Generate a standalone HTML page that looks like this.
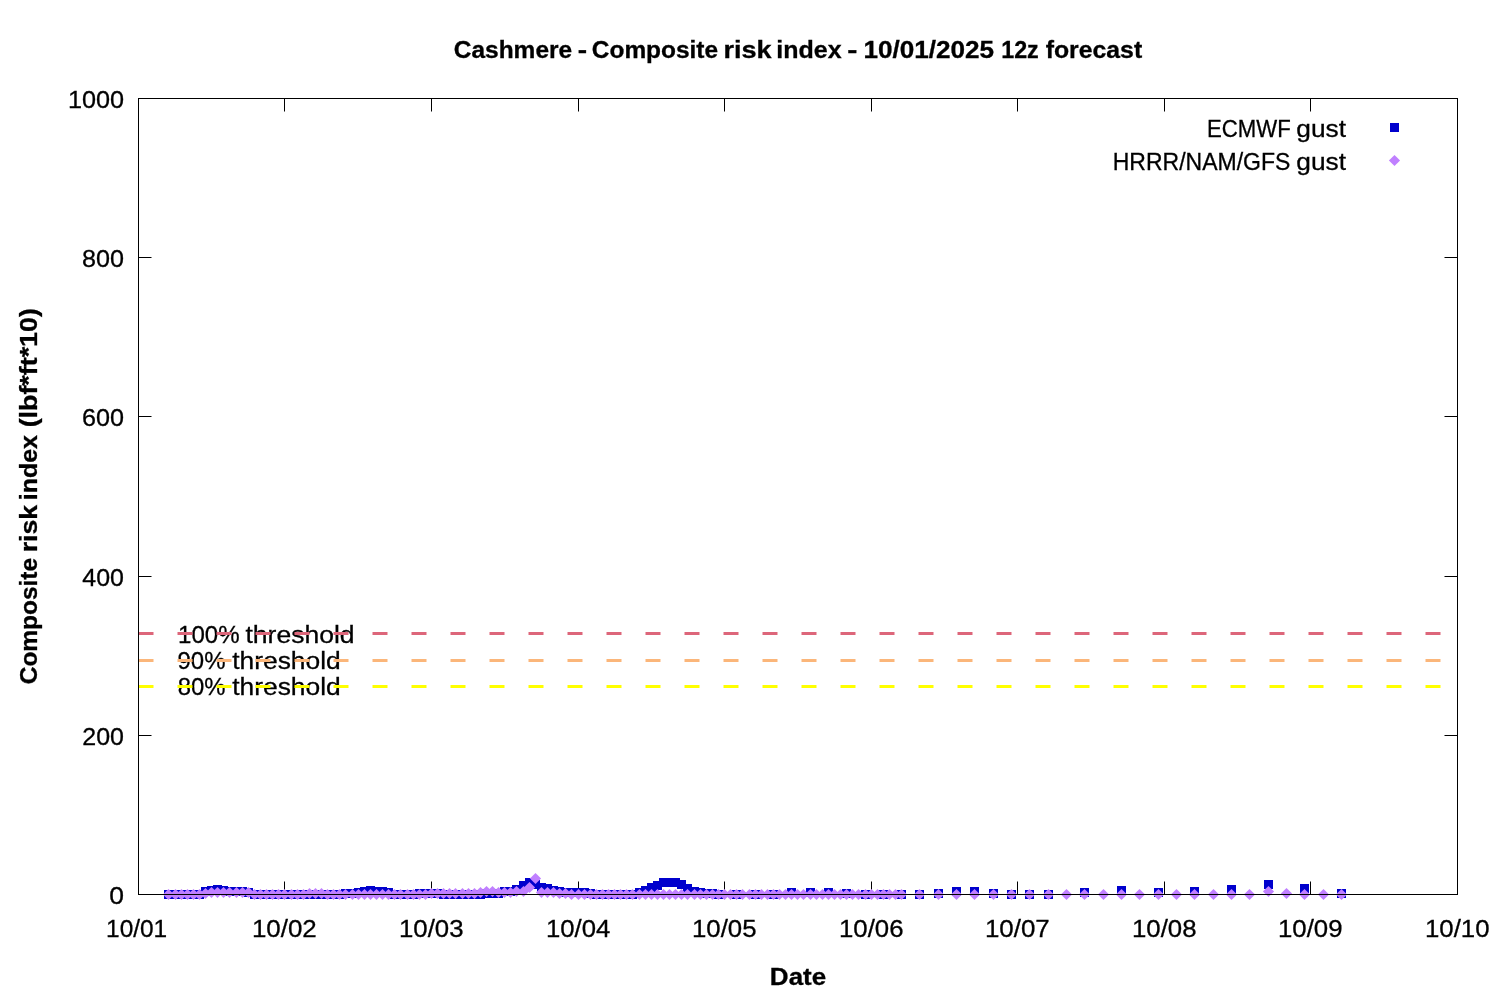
<!DOCTYPE html>
<html lang="en"><head><meta charset="utf-8"><title>Cashmere - Composite risk index</title>
<style>html,body{margin:0;padding:0;background:#fff}svg{display:block}text{font-family:"Liberation Sans",sans-serif;fill:#000;stroke:#000;stroke-width:.3px}</style></head><body>
<svg width="1500" height="1000" viewBox="0 0 1500 1000">
<rect width="1500" height="1000" fill="#fff"/>
<path d="M284.5 894.5V881.5M284.5 98.5V111.5M431.5 894.5V881.5M431.5 98.5V111.5M578.5 894.5V881.5M578.5 98.5V111.5M724.5 894.5V881.5M724.5 98.5V111.5M871.5 894.5V881.5M871.5 98.5V111.5M1017.5 894.5V881.5M1017.5 98.5V111.5M1164.5 894.5V881.5M1164.5 98.5V111.5M1310.5 894.5V881.5M1310.5 98.5V111.5M138.5 735.5H151.5M1457.5 735.5H1444.5M138.5 576.5H151.5M1457.5 576.5H1444.5M138.5 416.5H151.5M1457.5 416.5H1444.5M138.5 257.5H151.5M1457.5 257.5H1444.5" stroke="#000" stroke-width="1" fill="none"/>
<text y="58.4" font-size="23.5" font-weight="bold"><tspan x="453.72" textLength="118.46" lengthAdjust="spacingAndGlyphs">Cashmere</tspan> <tspan x="577.68" textLength="9.33" lengthAdjust="spacingAndGlyphs">-</tspan> <tspan x="591.82" textLength="126.28" lengthAdjust="spacingAndGlyphs">Composite</tspan> <tspan x="723.41" textLength="48.07" lengthAdjust="spacingAndGlyphs">risk</tspan> <tspan x="776.35" textLength="65.35" lengthAdjust="spacingAndGlyphs">index</tspan> <tspan x="847.28" textLength="10.13" lengthAdjust="spacingAndGlyphs">-</tspan> <tspan x="863.43" textLength="130.72" lengthAdjust="spacingAndGlyphs">10/01/2025</tspan> <tspan x="1001.2" textLength="37.55" lengthAdjust="spacingAndGlyphs">12z</tspan> <tspan x="1045.7" textLength="96.46" lengthAdjust="spacingAndGlyphs">forecast</tspan></text>
<text y="643" font-size="24.8"><tspan x="178.08" textLength="61.53" lengthAdjust="spacingAndGlyphs">100%</tspan> <tspan x="245.47" textLength="109.13" lengthAdjust="spacingAndGlyphs">threshold</tspan></text>
<text y="669" font-size="24.8"><tspan x="177.5" textLength="47.95" lengthAdjust="spacingAndGlyphs">90%</tspan> <tspan x="232.17" textLength="108.62" lengthAdjust="spacingAndGlyphs">threshold</tspan></text>
<text y="695" font-size="24.8"><tspan x="177.75" textLength="47.71" lengthAdjust="spacingAndGlyphs">80%</tspan> <tspan x="232.17" textLength="108.62" lengthAdjust="spacingAndGlyphs">threshold</tspan></text>
<line x1="138.5" y1="633.5" x2="1457.5" y2="633.5" stroke="#dd667a" stroke-width="3" stroke-dasharray="15 24"/>
<line x1="138.5" y1="660.5" x2="1457.5" y2="660.5" stroke="#fbb67a" stroke-width="3" stroke-dasharray="15 24"/>
<line x1="138.5" y1="686.5" x2="1457.5" y2="686.5" stroke="#ffff00" stroke-width="3" stroke-dasharray="15 24"/>
<g fill="#0000cd" shape-rendering="crispEdges">
<rect x="164" y="890" width="9" height="9"/>
<rect x="171" y="890" width="9" height="9"/>
<rect x="177" y="890" width="9" height="9"/>
<rect x="183" y="890" width="9" height="9"/>
<rect x="189" y="890" width="9" height="9"/>
<rect x="195" y="890" width="9" height="9"/>
<rect x="201" y="887" width="9" height="9"/>
<rect x="207" y="886" width="9" height="9"/>
<rect x="213" y="885" width="9" height="9"/>
<rect x="219" y="886" width="9" height="9"/>
<rect x="225" y="887" width="9" height="9"/>
<rect x="232" y="887" width="9" height="9"/>
<rect x="238" y="887" width="9" height="9"/>
<rect x="244" y="888" width="9" height="9"/>
<rect x="250" y="890" width="9" height="9"/>
<rect x="256" y="890" width="9" height="9"/>
<rect x="262" y="890" width="9" height="9"/>
<rect x="268" y="890" width="9" height="9"/>
<rect x="274" y="890" width="9" height="9"/>
<rect x="280" y="890" width="9" height="9"/>
<rect x="287" y="890" width="9" height="9"/>
<rect x="293" y="890" width="9" height="9"/>
<rect x="299" y="890" width="9" height="9"/>
<rect x="305" y="890" width="9" height="9"/>
<rect x="311" y="890" width="9" height="9"/>
<rect x="317" y="890" width="9" height="9"/>
<rect x="323" y="890" width="9" height="9"/>
<rect x="329" y="890" width="9" height="9"/>
<rect x="335" y="890" width="9" height="9"/>
<rect x="341" y="889" width="9" height="9"/>
<rect x="348" y="889" width="9" height="9"/>
<rect x="354" y="888" width="9" height="9"/>
<rect x="360" y="887" width="9" height="9"/>
<rect x="366" y="886" width="9" height="9"/>
<rect x="372" y="887" width="9" height="9"/>
<rect x="378" y="887" width="9" height="9"/>
<rect x="384" y="888" width="9" height="9"/>
<rect x="390" y="890" width="9" height="9"/>
<rect x="396" y="890" width="9" height="9"/>
<rect x="403" y="890" width="9" height="9"/>
<rect x="409" y="890" width="9" height="9"/>
<rect x="415" y="889" width="9" height="9"/>
<rect x="421" y="889" width="9" height="9"/>
<rect x="427" y="889" width="9" height="9"/>
<rect x="433" y="889" width="9" height="9"/>
<rect x="439" y="890" width="9" height="9"/>
<rect x="445" y="890" width="9" height="9"/>
<rect x="451" y="890" width="9" height="9"/>
<rect x="458" y="890" width="9" height="9"/>
<rect x="464" y="890" width="9" height="9"/>
<rect x="470" y="890" width="9" height="9"/>
<rect x="476" y="890" width="9" height="9"/>
<rect x="482" y="889" width="9" height="9"/>
<rect x="488" y="889" width="9" height="9"/>
<rect x="494" y="889" width="9" height="9"/>
<rect x="500" y="887" width="9" height="9"/>
<rect x="506" y="887" width="9" height="9"/>
<rect x="512" y="885" width="9" height="9"/>
<rect x="519" y="881" width="9" height="9"/>
<rect x="525" y="878" width="9" height="9"/>
<rect x="531" y="880" width="9" height="9"/>
<rect x="537" y="883" width="9" height="9"/>
<rect x="543" y="884" width="9" height="9"/>
<rect x="549" y="886" width="9" height="9"/>
<rect x="555" y="887" width="9" height="9"/>
<rect x="561" y="888" width="9" height="9"/>
<rect x="567" y="888" width="9" height="9"/>
<rect x="574" y="888" width="9" height="9"/>
<rect x="580" y="888" width="9" height="9"/>
<rect x="586" y="889" width="9" height="9"/>
<rect x="592" y="890" width="9" height="9"/>
<rect x="598" y="890" width="9" height="9"/>
<rect x="604" y="890" width="9" height="9"/>
<rect x="610" y="890" width="9" height="9"/>
<rect x="616" y="890" width="9" height="9"/>
<rect x="622" y="890" width="9" height="9"/>
<rect x="628" y="890" width="9" height="9"/>
<rect x="635" y="888" width="9" height="9"/>
<rect x="641" y="886" width="9" height="9"/>
<rect x="647" y="883" width="9" height="9"/>
<rect x="653" y="881" width="9" height="9"/>
<rect x="659" y="878" width="9" height="9"/>
<rect x="665" y="878" width="9" height="9"/>
<rect x="671" y="878" width="9" height="9"/>
<rect x="677" y="880" width="9" height="9"/>
<rect x="683" y="884" width="9" height="9"/>
<rect x="690" y="887" width="9" height="9"/>
<rect x="696" y="888" width="9" height="9"/>
<rect x="702" y="889" width="9" height="9"/>
<rect x="708" y="889" width="9" height="9"/>
<rect x="714" y="890" width="9" height="9"/>
<rect x="732" y="890" width="9" height="9"/>
<rect x="751" y="890" width="9" height="9"/>
<rect x="769" y="890" width="9" height="9"/>
<rect x="787" y="888" width="9" height="9"/>
<rect x="806" y="888" width="9" height="9"/>
<rect x="824" y="888" width="9" height="9"/>
<rect x="842" y="889" width="9" height="9"/>
<rect x="861" y="890" width="9" height="9"/>
<rect x="879" y="890" width="9" height="9"/>
<rect x="897" y="890" width="9" height="9"/>
<rect x="915" y="890" width="9" height="9"/>
<rect x="934" y="889" width="9" height="9"/>
<rect x="952" y="887" width="9" height="9"/>
<rect x="970" y="887" width="9" height="9"/>
<rect x="989" y="889" width="9" height="9"/>
<rect x="1007" y="890" width="9" height="9"/>
<rect x="1025" y="890" width="9" height="9"/>
<rect x="1044" y="890" width="9" height="9"/>
<rect x="1080" y="888" width="9" height="9"/>
<rect x="1117" y="886" width="9" height="9"/>
<rect x="1154" y="888" width="9" height="9"/>
<rect x="1190" y="887" width="9" height="9"/>
<rect x="1227" y="885" width="9" height="9"/>
<rect x="1264" y="880" width="9" height="9"/>
<rect x="1300" y="884" width="9" height="9"/>
<rect x="1337" y="889" width="9" height="9"/>
</g>
<g fill="#c080ff">
<path d="M162.9 894.5L168.5 888.9L174.1 894.5L168.5 900.1Z"/>
<path d="M169.9 894.5L175.5 888.9L181.1 894.5L175.5 900.1Z"/>
<path d="M175.9 894.5L181.5 888.9L187.1 894.5L181.5 900.1Z"/>
<path d="M181.9 894.5L187.5 888.9L193.1 894.5L187.5 900.1Z"/>
<path d="M187.9 894.5L193.5 888.9L199.1 894.5L193.5 900.1Z"/>
<path d="M193.9 894.5L199.5 888.9L205.1 894.5L199.5 900.1Z"/>
<path d="M199.9 893.5L205.5 887.9L211.1 893.5L205.5 899.1Z"/>
<path d="M205.9 892.5L211.5 886.9L217.1 892.5L211.5 898.1Z"/>
<path d="M211.9 892.5L217.5 886.9L223.1 892.5L217.5 898.1Z"/>
<path d="M217.9 892.5L223.5 886.9L229.1 892.5L223.5 898.1Z"/>
<path d="M223.9 892.5L229.5 886.9L235.1 892.5L229.5 898.1Z"/>
<path d="M230.9 892.5L236.5 886.9L242.1 892.5L236.5 898.1Z"/>
<path d="M236.9 892.5L242.5 886.9L248.1 892.5L242.5 898.1Z"/>
<path d="M242.9 892.5L248.5 886.9L254.1 892.5L248.5 898.1Z"/>
<path d="M248.9 894.5L254.5 888.9L260.1 894.5L254.5 900.1Z"/>
<path d="M254.9 894.5L260.5 888.9L266.1 894.5L260.5 900.1Z"/>
<path d="M260.9 894.5L266.5 888.9L272.1 894.5L266.5 900.1Z"/>
<path d="M266.9 894.5L272.5 888.9L278.1 894.5L272.5 900.1Z"/>
<path d="M272.9 894.5L278.5 888.9L284.1 894.5L278.5 900.1Z"/>
<path d="M278.9 894.5L284.5 888.9L290.1 894.5L284.5 900.1Z"/>
<path d="M285.9 894.5L291.5 888.9L297.1 894.5L291.5 900.1Z"/>
<path d="M291.9 894.5L297.5 888.9L303.1 894.5L297.5 900.1Z"/>
<path d="M297.9 894.5L303.5 888.9L309.1 894.5L303.5 900.1Z"/>
<path d="M303.9 893.5L309.5 887.9L315.1 893.5L309.5 899.1Z"/>
<path d="M309.9 893.5L315.5 887.9L321.1 893.5L315.5 899.1Z"/>
<path d="M315.9 893.5L321.5 887.9L327.1 893.5L321.5 899.1Z"/>
<path d="M321.9 894.5L327.5 888.9L333.1 894.5L327.5 900.1Z"/>
<path d="M327.9 894.5L333.5 888.9L339.1 894.5L333.5 900.1Z"/>
<path d="M333.9 894.5L339.5 888.9L345.1 894.5L339.5 900.1Z"/>
<path d="M339.9 894.5L345.5 888.9L351.1 894.5L345.5 900.1Z"/>
<path d="M346.9 894.5L352.5 888.9L358.1 894.5L352.5 900.1Z"/>
<path d="M352.9 894.5L358.5 888.9L364.1 894.5L358.5 900.1Z"/>
<path d="M358.9 894.5L364.5 888.9L370.1 894.5L364.5 900.1Z"/>
<path d="M364.9 894.5L370.5 888.9L376.1 894.5L370.5 900.1Z"/>
<path d="M370.9 894.5L376.5 888.9L382.1 894.5L376.5 900.1Z"/>
<path d="M376.9 894.5L382.5 888.9L388.1 894.5L382.5 900.1Z"/>
<path d="M382.9 894.5L388.5 888.9L394.1 894.5L388.5 900.1Z"/>
<path d="M388.9 894.5L394.5 888.9L400.1 894.5L394.5 900.1Z"/>
<path d="M394.9 894.5L400.5 888.9L406.1 894.5L400.5 900.1Z"/>
<path d="M401.9 894.5L407.5 888.9L413.1 894.5L407.5 900.1Z"/>
<path d="M407.9 894.5L413.5 888.9L419.1 894.5L413.5 900.1Z"/>
<path d="M413.9 894.5L419.5 888.9L425.1 894.5L419.5 900.1Z"/>
<path d="M419.9 894.5L425.5 888.9L431.1 894.5L425.5 900.1Z"/>
<path d="M425.9 893.5L431.5 887.9L437.1 893.5L431.5 899.1Z"/>
<path d="M431.9 893.5L437.5 887.9L443.1 893.5L437.5 899.1Z"/>
<path d="M437.9 893.5L443.5 887.9L449.1 893.5L443.5 899.1Z"/>
<path d="M443.9 893.5L449.5 887.9L455.1 893.5L449.5 899.1Z"/>
<path d="M449.9 893.5L455.5 887.9L461.1 893.5L455.5 899.1Z"/>
<path d="M456.9 893.5L462.5 887.9L468.1 893.5L462.5 899.1Z"/>
<path d="M462.9 893.5L468.5 887.9L474.1 893.5L468.5 899.1Z"/>
<path d="M468.9 893.5L474.5 887.9L480.1 893.5L474.5 899.1Z"/>
<path d="M474.9 892.5L480.5 886.9L486.1 892.5L480.5 898.1Z"/>
<path d="M480.9 891.5L486.5 885.9L492.1 891.5L486.5 897.1Z"/>
<path d="M486.9 891.5L492.5 885.9L498.1 891.5L492.5 897.1Z"/>
<path d="M492.9 892.5L498.5 886.9L504.1 892.5L498.5 898.1Z"/>
<path d="M498.9 892.5L504.5 886.9L510.1 892.5L504.5 898.1Z"/>
<path d="M504.9 892.5L510.5 886.9L516.1 892.5L510.5 898.1Z"/>
<path d="M510.9 891.5L516.5 885.9L522.1 891.5L516.5 897.1Z"/>
<path d="M517.9 891.5L523.5 885.9L529.1 891.5L523.5 897.1Z"/>
<path d="M523.9 887.5L529.5 881.9L535.1 887.5L529.5 893.1Z"/>
<path d="M529.9 878.5L535.5 872.9L541.1 878.5L535.5 884.1Z"/>
<path d="M535.9 892.5L541.5 886.9L547.1 892.5L541.5 898.1Z"/>
<path d="M541.9 892.5L547.5 886.9L553.1 892.5L547.5 898.1Z"/>
<path d="M547.9 892.5L553.5 886.9L559.1 892.5L553.5 898.1Z"/>
<path d="M553.9 893.5L559.5 887.9L565.1 893.5L559.5 899.1Z"/>
<path d="M559.9 893.5L565.5 887.9L571.1 893.5L565.5 899.1Z"/>
<path d="M565.9 894.5L571.5 888.9L577.1 894.5L571.5 900.1Z"/>
<path d="M572.9 894.5L578.5 888.9L584.1 894.5L578.5 900.1Z"/>
<path d="M578.9 894.5L584.5 888.9L590.1 894.5L584.5 900.1Z"/>
<path d="M584.9 894.5L590.5 888.9L596.1 894.5L590.5 900.1Z"/>
<path d="M590.9 894.5L596.5 888.9L602.1 894.5L596.5 900.1Z"/>
<path d="M596.9 894.5L602.5 888.9L608.1 894.5L602.5 900.1Z"/>
<path d="M602.9 894.5L608.5 888.9L614.1 894.5L608.5 900.1Z"/>
<path d="M608.9 894.5L614.5 888.9L620.1 894.5L614.5 900.1Z"/>
<path d="M614.9 894.5L620.5 888.9L626.1 894.5L620.5 900.1Z"/>
<path d="M620.9 894.5L626.5 888.9L632.1 894.5L626.5 900.1Z"/>
<path d="M626.9 894.5L632.5 888.9L638.1 894.5L632.5 900.1Z"/>
<path d="M633.9 894.5L639.5 888.9L645.1 894.5L639.5 900.1Z"/>
<path d="M639.9 894.5L645.5 888.9L651.1 894.5L645.5 900.1Z"/>
<path d="M645.9 894.5L651.5 888.9L657.1 894.5L651.5 900.1Z"/>
<path d="M651.9 894.5L657.5 888.9L663.1 894.5L657.5 900.1Z"/>
<path d="M657.9 894.5L663.5 888.9L669.1 894.5L663.5 900.1Z"/>
<path d="M663.9 894.5L669.5 888.9L675.1 894.5L669.5 900.1Z"/>
<path d="M669.9 894.5L675.5 888.9L681.1 894.5L675.5 900.1Z"/>
<path d="M675.9 894.5L681.5 888.9L687.1 894.5L681.5 900.1Z"/>
<path d="M681.9 894.5L687.5 888.9L693.1 894.5L687.5 900.1Z"/>
<path d="M688.9 894.5L694.5 888.9L700.1 894.5L694.5 900.1Z"/>
<path d="M694.9 894.5L700.5 888.9L706.1 894.5L700.5 900.1Z"/>
<path d="M700.9 894.5L706.5 888.9L712.1 894.5L706.5 900.1Z"/>
<path d="M706.9 894.5L712.5 888.9L718.1 894.5L712.5 900.1Z"/>
<path d="M712.9 894.5L718.5 888.9L724.1 894.5L718.5 900.1Z"/>
<path d="M718.9 894.5L724.5 888.9L730.1 894.5L724.5 900.1Z"/>
<path d="M724.9 894.5L730.5 888.9L736.1 894.5L730.5 900.1Z"/>
<path d="M730.9 894.5L736.5 888.9L742.1 894.5L736.5 900.1Z"/>
<path d="M736.9 894.5L742.5 888.9L748.1 894.5L742.5 900.1Z"/>
<path d="M743.9 894.5L749.5 888.9L755.1 894.5L749.5 900.1Z"/>
<path d="M749.9 894.5L755.5 888.9L761.1 894.5L755.5 900.1Z"/>
<path d="M755.9 894.5L761.5 888.9L767.1 894.5L761.5 900.1Z"/>
<path d="M761.9 894.5L767.5 888.9L773.1 894.5L767.5 900.1Z"/>
<path d="M767.9 894.5L773.5 888.9L779.1 894.5L773.5 900.1Z"/>
<path d="M773.9 894.5L779.5 888.9L785.1 894.5L779.5 900.1Z"/>
<path d="M779.9 894.5L785.5 888.9L791.1 894.5L785.5 900.1Z"/>
<path d="M785.9 894.5L791.5 888.9L797.1 894.5L791.5 900.1Z"/>
<path d="M791.9 894.5L797.5 888.9L803.1 894.5L797.5 900.1Z"/>
<path d="M797.9 894.5L803.5 888.9L809.1 894.5L803.5 900.1Z"/>
<path d="M804.9 894.5L810.5 888.9L816.1 894.5L810.5 900.1Z"/>
<path d="M810.9 894.5L816.5 888.9L822.1 894.5L816.5 900.1Z"/>
<path d="M816.9 894.5L822.5 888.9L828.1 894.5L822.5 900.1Z"/>
<path d="M822.9 894.5L828.5 888.9L834.1 894.5L828.5 900.1Z"/>
<path d="M828.9 894.5L834.5 888.9L840.1 894.5L834.5 900.1Z"/>
<path d="M834.9 894.5L840.5 888.9L846.1 894.5L840.5 900.1Z"/>
<path d="M840.9 894.5L846.5 888.9L852.1 894.5L846.5 900.1Z"/>
<path d="M846.9 894.5L852.5 888.9L858.1 894.5L852.5 900.1Z"/>
<path d="M852.9 894.5L858.5 888.9L864.1 894.5L858.5 900.1Z"/>
<path d="M859.9 894.5L865.5 888.9L871.1 894.5L865.5 900.1Z"/>
<path d="M865.9 894.5L871.5 888.9L877.1 894.5L871.5 900.1Z"/>
<path d="M871.9 894.5L877.5 888.9L883.1 894.5L877.5 900.1Z"/>
<path d="M877.9 894.5L883.5 888.9L889.1 894.5L883.5 900.1Z"/>
<path d="M883.9 894.5L889.5 888.9L895.1 894.5L889.5 900.1Z"/>
<path d="M889.9 894.5L895.5 888.9L901.1 894.5L895.5 900.1Z"/>
<path d="M895.9 894.5L901.5 888.9L907.1 894.5L901.5 900.1Z"/>
<path d="M913.9 894.5L919.5 888.9L925.1 894.5L919.5 900.1Z"/>
<path d="M932.9 894.5L938.5 888.9L944.1 894.5L938.5 900.1Z"/>
<path d="M950.9 894.5L956.5 888.9L962.1 894.5L956.5 900.1Z"/>
<path d="M968.9 894.5L974.5 888.9L980.1 894.5L974.5 900.1Z"/>
<path d="M987.9 894.5L993.5 888.9L999.1 894.5L993.5 900.1Z"/>
<path d="M1005.9 894.5L1011.5 888.9L1017.1 894.5L1011.5 900.1Z"/>
<path d="M1023.9 894.5L1029.5 888.9L1035.1 894.5L1029.5 900.1Z"/>
<path d="M1042.9 894.5L1048.5 888.9L1054.1 894.5L1048.5 900.1Z"/>
<path d="M1060.9 894.5L1066.5 888.9L1072.1 894.5L1066.5 900.1Z"/>
<path d="M1078.9 894.5L1084.5 888.9L1090.1 894.5L1084.5 900.1Z"/>
<path d="M1097.9 894.5L1103.5 888.9L1109.1 894.5L1103.5 900.1Z"/>
<path d="M1115.9 894.5L1121.5 888.9L1127.1 894.5L1121.5 900.1Z"/>
<path d="M1133.9 894.5L1139.5 888.9L1145.1 894.5L1139.5 900.1Z"/>
<path d="M1152.9 894.5L1158.5 888.9L1164.1 894.5L1158.5 900.1Z"/>
<path d="M1170.9 894.5L1176.5 888.9L1182.1 894.5L1176.5 900.1Z"/>
<path d="M1188.9 894.5L1194.5 888.9L1200.1 894.5L1194.5 900.1Z"/>
<path d="M1207.9 894.5L1213.5 888.9L1219.1 894.5L1213.5 900.1Z"/>
<path d="M1225.9 894.5L1231.5 888.9L1237.1 894.5L1231.5 900.1Z"/>
<path d="M1243.9 894.5L1249.5 888.9L1255.1 894.5L1249.5 900.1Z"/>
<path d="M1262.9 891.5L1268.5 885.9L1274.1 891.5L1268.5 897.1Z"/>
<path d="M1280.9 893.5L1286.5 887.9L1292.1 893.5L1286.5 899.1Z"/>
<path d="M1298.9 894.5L1304.5 888.9L1310.1 894.5L1304.5 900.1Z"/>
<path d="M1317.9 894.5L1323.5 888.9L1329.1 894.5L1323.5 900.1Z"/>
<path d="M1335.9 894.5L1341.5 888.9L1347.1 894.5L1341.5 900.1Z"/>
</g>
<text y="137" font-size="24.8"><tspan x="1207.03" textLength="83.69" lengthAdjust="spacingAndGlyphs">ECMWF</tspan> <tspan x="1296.35" textLength="49.72" lengthAdjust="spacingAndGlyphs">gust</tspan></text>
<text y="169.7" font-size="24.8"><tspan x="1112.76" textLength="177.61" lengthAdjust="spacingAndGlyphs">HRRR/NAM/GFS</tspan> <tspan x="1296.35" textLength="49.72" lengthAdjust="spacingAndGlyphs">gust</tspan></text>
<rect x="1390" y="123" width="9" height="9" fill="#0000cd" shape-rendering="crispEdges"/>
<path d="M1388.9 160.5L1394.5 154.9L1400.1 160.5L1394.5 166.1Z" fill="#c080ff"/>
<rect x="138.5" y="98.5" width="1319" height="796" stroke="#000" stroke-width="1" fill="none"/>
<text y="903.8" font-size="24.8"><tspan x="109.24" textLength="14.72" lengthAdjust="spacingAndGlyphs">0</tspan></text>
<text y="744.8" font-size="24.8"><tspan x="82.25" textLength="41.71" lengthAdjust="spacingAndGlyphs">200</tspan></text>
<text y="585.8" font-size="24.8"><tspan x="82.3" textLength="41.66" lengthAdjust="spacingAndGlyphs">400</tspan></text>
<text y="425.8" font-size="24.8"><tspan x="81.94" textLength="42.03" lengthAdjust="spacingAndGlyphs">600</tspan></text>
<text y="266.8" font-size="24.8"><tspan x="81.99" textLength="41.98" lengthAdjust="spacingAndGlyphs">800</tspan></text>
<text y="107.8" font-size="24.8"><tspan x="67.98" textLength="56.15" lengthAdjust="spacingAndGlyphs">1000</tspan></text>
<text y="936.7" font-size="24.8"><tspan x="106.05" textLength="61.14" lengthAdjust="spacingAndGlyphs">10/01</tspan></text>
<text y="936.7" font-size="24.8"><tspan x="251.93" textLength="64.83" lengthAdjust="spacingAndGlyphs">10/02</tspan></text>
<text y="936.7" font-size="24.8"><tspan x="398.94" textLength="64.56" lengthAdjust="spacingAndGlyphs">10/03</tspan></text>
<text y="936.7" font-size="24.8"><tspan x="545.94" textLength="64.29" lengthAdjust="spacingAndGlyphs">10/04</tspan></text>
<text y="936.7" font-size="24.8"><tspan x="691.94" textLength="64.56" lengthAdjust="spacingAndGlyphs">10/05</tspan></text>
<text y="936.7" font-size="24.8"><tspan x="838.94" textLength="64.56" lengthAdjust="spacingAndGlyphs">10/06</tspan></text>
<text y="936.7" font-size="24.8"><tspan x="984.93" textLength="64.83" lengthAdjust="spacingAndGlyphs">10/07</tspan></text>
<text y="936.7" font-size="24.8"><tspan x="1131.94" textLength="64.56" lengthAdjust="spacingAndGlyphs">10/08</tspan></text>
<text y="936.7" font-size="24.8"><tspan x="1277.94" textLength="64.56" lengthAdjust="spacingAndGlyphs">10/09</tspan></text>
<text y="936.7" font-size="24.8"><tspan x="1424.94" textLength="64.56" lengthAdjust="spacingAndGlyphs">10/10</tspan></text>
<text y="985.3" font-size="23.5" font-weight="bold"><tspan x="769.88" textLength="56.29" lengthAdjust="spacingAndGlyphs">Date</tspan></text>
<text y="0" font-size="23.5" font-weight="bold" transform="translate(36.5 700) rotate(-90)"><tspan x="15.72" textLength="126.38" lengthAdjust="spacingAndGlyphs">Composite</tspan> <tspan x="147.73" textLength="47.45" lengthAdjust="spacingAndGlyphs">risk</tspan> <tspan x="199.85" textLength="65.14" lengthAdjust="spacingAndGlyphs">index</tspan> <tspan x="272.66" textLength="119.23" lengthAdjust="spacingAndGlyphs">(lbf*ft*10)</tspan></text>
</svg></body></html>
